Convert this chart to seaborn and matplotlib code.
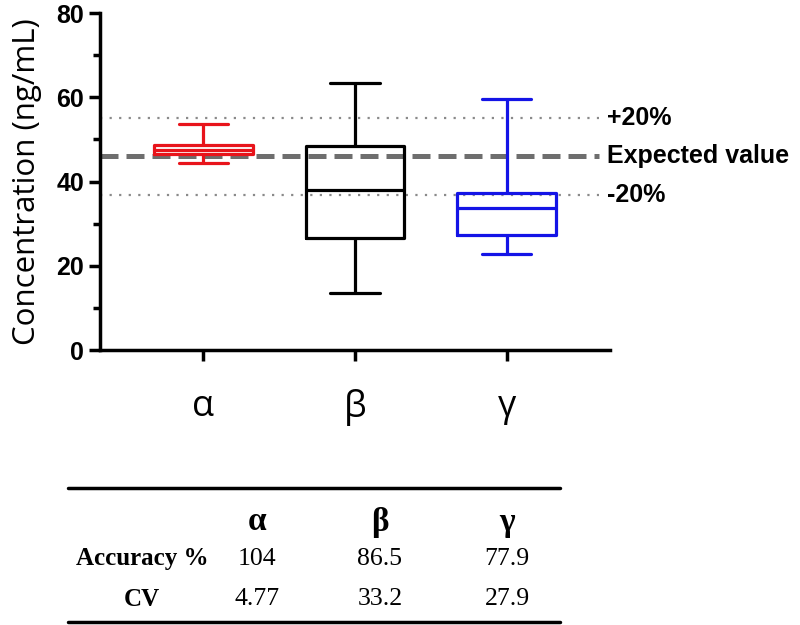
import numpy as np
import pandas as pd
import matplotlib
matplotlib.use('Agg')
import matplotlib.pyplot as plt
import seaborn as sns

# ── Data ────────────────────────────────────────────────────────────────
groups       = ['α', 'β', 'γ']
whisker_low  = [44.4, 13.5, 22.8]
q1           = [46.5, 26.6, 27.3]
median       = [47.5, 38.0, 33.7]
q3           = [48.7, 48.5, 37.3]
whisker_high = [53.7, 63.4, 59.6]
colors       = ['#E8141B', '#000000', '#1414E6']

expected   = 46.0
ref_lines  = [expected * 1.2, expected, expected * 0.8]
ref_labels = ['+20%', 'Expected value', '-20%']

accuracy  = ['104', '86.5', '77.9']
cv        = ['4.77', '33.2', '27.9']
row_names = ['Accuracy %', 'CV']

# five-number summary per group -> quartiles come out exact with 5 points
rows = []
for g, lo, a, m, b, hi in zip(groups, whisker_low, q1, median, q3, whisker_high):
    for v in (lo, a, m, b, hi):
        rows.append({'group': g, 'value': v})
df = pd.DataFrame(rows)

# ── Styling ─────────────────────────────────────────────────────────────
sns.set_style('ticks')
plt.rcParams.update({
    'text.color':      'black',
    'axes.edgecolor':  'black',
    'axes.labelcolor': 'black',
    'xtick.color':     'black',
    'ytick.color':     'black',
})
plt.rcParams['font.family'] = ['Liberation Sans', 'DejaVu Sans']

fig = plt.figure(figsize=(8, 6.25), dpi=100)
ax = fig.add_axes([0.125, 0.44, 0.6375, 0.539])

sns.boxplot(data=df, x='group', y='value', hue='group', palette=colors,
            fill=False, width=0.65, whis=(0, 100), linewidth=2.3,
            legend=False, ax=ax)

xmin, xmax = -0.68, 2.68
ax.set_xlim(xmin, xmax)
ax.set_ylim(0, 80)

# reference lines
ax.hlines(ref_lines[1], xmin, 2.61, colors='#6E6E6E', linewidth=3.6,
          linestyles=(0, (3.6, 1.6)), zorder=1)
for y in (ref_lines[0], ref_lines[2]):
    ax.hlines(y, xmin, 2.61, colors='#8A8A8A', linewidth=1.6,
              linestyles=(0, (1, 3.3)), zorder=1)
for y, lab in zip(ref_lines, ref_labels):
    ax.text(2.66, y, lab, fontsize=18, fontweight='bold', va='center',
            ha='left', clip_on=False)

# axes look
sns.despine(ax=ax)
for s in ('left', 'bottom'):
    ax.spines[s].set_linewidth(2.5)
ax.set_yticks([0, 20, 40, 60, 80])
ax.set_yticks([10, 30, 50, 70], minor=True)
ax.tick_params(axis='y', which='major', length=8, width=2.5, labelsize=18)
ax.tick_params(axis='y', which='minor', length=5, width=2.5)
ax.tick_params(axis='x', length=8, width=2.5, pad=20)
for t in ax.get_yticklabels():
    t.set_fontweight('bold')
for t in ax.get_xticklabels():
    t.set_fontfamily(['Open Sans', 'DejaVu Sans'])
    t.set_fontsize(26)
ax.set_xlabel('')
ax.set_ylabel('Concentration (ng/mL)', fontsize=22.5,
              family=['Open Sans', 'DejaVu Sans'], labelpad=10)

# ── Table underneath ────────────────────────────────────────────────────
tab = fig.add_axes([0, 0, 1, 1], zorder=-1)
tab.set_xlim(0, 800)
tab.set_ylim(625, 0)
tab.axis('off')
tab.plot([68, 560], [488, 488], color='black', linewidth=2.5)
tab.plot([68, 560], [622, 622], color='black', linewidth=2.5)

serif = ['Liberation Serif', 'DejaVu Serif']
col_x = [257, 380, 507]
for x, g in zip(col_x, groups):
    tab.text(x, 522, g, family=serif, fontsize=24, fontweight='bold',
             ha='center', va='center')
for y, name, vals in zip([559, 599], row_names, [accuracy, cv]):
    tab.text(142, y, name, family=serif, fontsize=18, fontweight='bold',
             ha='center', va='center')
    for x, v in zip(col_x, vals):
        tab.text(x, y, v, family=serif, fontsize=18.5, ha='center', va='center')

plt.savefig('out.png', dpi=100)
plt.close()
